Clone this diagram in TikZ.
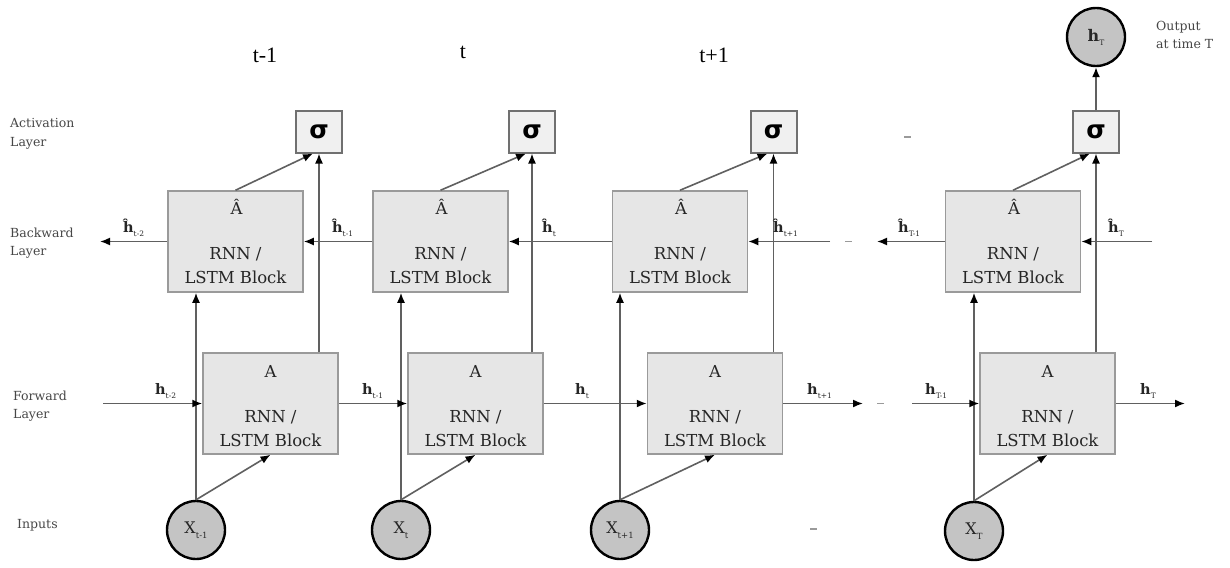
\documentclass[tikz,border=0pt]{standalone}
\usepackage{fontspec}
\usetikzlibrary{arrows.meta}
\setmainfont{DejaVu Serif}
\newfontfamily\sigmafont{DejaVu Sans}
\newfontfamily\timesfont{Liberation Serif}
\definecolor{blockfill}{HTML}{E6E6E6}
\definecolor{blockedge}{HTML}{9A9A9A}
\definecolor{wirecol}{HTML}{606060}
\definecolor{nodefill}{HTML}{C4C4C4}
\definecolor{sigfill}{HTML}{F0F0F0}
\definecolor{sigedge}{HTML}{707070}
\definecolor{ink}{HTML}{262626}
\definecolor{dashcol}{HTML}{9A9A9A}

% hidden-state labels with small lowered subscripts
\newcommand{\hlab}[1]{\textbf{h}\raisebox{-4pt}{\fontsize{7.5}{7.5}\selectfont #1}}
\newcommand{\hhat}[1]{\textbf{\^h}\raisebox{-4pt}{\fontsize{7.5}{7.5}\selectfont #1}}
\newcommand{\xlab}[1]{X\raisebox{-5pt}{\fontsize{8.5}{8.5}\selectfont #1}}

\tikzset{
  block/.style={draw=blockedge, fill=blockfill, line width=1.5pt,
    minimum width=135pt, minimum height=101pt, inner sep=0pt},
  sig/.style={draw=sigedge, fill=sigfill, line width=2pt,
    minimum width=46pt, minimum height=41pt, inner sep=0pt,
    font=\sigmafont\bfseries\fontsize{25}{25}\selectfont},
  unit/.style={circle, draw=black, fill=nodefill, line width=2.4pt,
    minimum size=58pt, inner sep=0pt, text=ink,
    font=\fontsize{16}{16}\selectfont},
  wire/.style={draw=wirecol, line width=1.6pt},
  arr/.style={wire, -{Latex[length=10pt,width=8pt,color=black]}},
  blocktext/.style={align=center, inner sep=0pt, text=ink,
    font=\fontsize{16.5}{23.5}\selectfont},
  blockhead/.style={anchor=base, inner sep=0pt, text=ink,
    font=\fontsize{16.5}{16.5}\selectfont},
  lab/.style={anchor=base west, inner sep=0pt, text=ink,
    font=\fontsize{14.5}{14.5}\selectfont},
  side/.style={anchor=base west, inner sep=0pt, text=ink!85,
    font=\fontsize{12.5}{12.5}\selectfont},
  timelab/.style={inner sep=0pt, text=black,
    font=\timesfont\fontsize{22}{22}\selectfont},
  gap/.style={draw=dashcol, line width=1.6pt},
}

\begin{document}
\begin{tikzpicture}[x=1pt, y=-1pt]
\useasboundingbox (0,0) rectangle (1230,567);
\fill[white] (0,0) rectangle (1230,567);

% row captions
\node[side] (capA1) at (10,128) {Activation};
\node[side] (capA2) at (10,146) {Layer};
\node[side] (capB1) at (10,237) {Backward};
\node[side] (capB2) at (10,255) {Layer};
\node[side] (capF1) at (13,400) {Forward};
\node[side] (capF2) at (13,418) {Layer};
\node[side] (capI) at (17,528) {Inputs};

% time steps
\node[timelab] (tm1) at (265,55) {t-1};
\node[timelab] (tm2) at (463,52) {t};
\node[timelab] (tm3) at (714,55) {t+1};

% blocks: backward (bw), forward (fw), activation (sg)
\foreach \i/\bx/\fx/\sx in {1/235.5/270.5/319, 2/440.5/475.5/532,
                            3/680/715/773.5, 4/1013/1047.5/1096}{
  \node[block] (bw\i) at (\bx,241.5) {};
  \node[blockhead] (bwA\i) at (\bx+1,214) {\^A};
  \node[blocktext] (bwT\i) at (\bx,265.5) {RNN /\\LSTM Block};
  \node[block] (fw\i) at (\fx,403.5) {};
  \node[blockhead] (fwA\i) at (\fx,377) {A};
  \node[blocktext] (fwT\i) at (\fx,428.5) {RNN /\\LSTM Block};
  \node[sig] (sg\i) at (\sx,132) {σ};
}
% inputs and output
\node[unit] (x1) at (196,530) {\xlab{t-1}};
\node[unit] (x2) at (401,530) {\xlab{t}};
\node[unit] (x3) at (620,530) {\xlab{t+1}};
\node[unit] (x4) at (974,531) {\xlab{T}};
\node[unit] (hT) at (1096,37) {\hlab{T}};

% per-column connectors
\foreach \i in {1,2,3,4}{
  \draw[arr] (x\i.north) -- (x\i.north |- bw\i.south);
  \draw[arr] (x\i.north) -- (fw\i.south);
  \draw[arr] (sg\i.south |- fw\i.north) -- (sg\i.south);
  \draw[arr] (bw\i.north) -- ([xshift=-6pt]sg\i.south);
}
\draw[arr] (sg4.north) -- (hT.south);

% free ends of the recurrent chains
\coordinate (bl0) at (100,241.5);
\coordinate (br3) at (830,241.5);
\coordinate (bl4) at (877,241.5);
\coordinate (br4) at (1152,241.5);
\coordinate (fl1) at (103,403.5);
\coordinate (fr3) at (863,403.5);
\coordinate (fl4) at (912,403.5);
\coordinate (fr4) at (1185,403.5);

% backward chain
\draw[arr] (bw1.west) -- (bl0);
\draw[arr] (bw2.west) -- (bw1.east);
\draw[arr] (bw3.west) -- (bw2.east);
\draw[arr] (br3) -- (bw3.east);
\draw[arr] (bw4.west) -- (bl4);
\draw[arr] (br4) -- (bw4.east);

% forward chain
\draw[arr] (fl1) -- (fw1.west);
\draw[arr] (fw1.east) -- (fw2.west);
\draw[arr] (fw2.east) -- (fw3.west);
\draw[arr] (fw3.east) -- (fr3);
\draw[arr] (fl4) -- (fw4.west);
\draw[arr] (fw4.east) -- (fr4);

% state labels
\node[lab] (lb1) at (123,232) {\hhat{t-2}};
\node[lab] (lb2) at (332,232) {\hhat{t-1}};
\node[lab] (lb3) at (542,232) {\hhat{t}};
\node[lab] (lb4) at (773,232) {\hhat{t+1}};
\node[lab] (lb5) at (898,232) {\hhat{T-1}};
\node[lab] (lb6) at (1108,232) {\hhat{T}};
\node[lab] (lf1) at (155,394) {\hlab{t-2}};
\node[lab] (lf2) at (362,394) {\hlab{t-1}};
\node[lab] (lf3) at (575,394) {\hlab{t}};
\node[lab] (lf4) at (807,394) {\hlab{t+1}};
\node[lab] (lf5) at (925,394) {\hlab{T-1}};
\node[lab] (lf6) at (1140,394) {\hlab{T}};

% elided steps
\draw[gap] (845,241.5) -- (852,241.5);
\draw[gap] (877,403.5) -- (884,403.5);
\draw[gap] (810,529) -- (817,529);
\draw[gap] (904,137) -- (911,137);

% output caption
\node[side] (out1) at (1156,31) {Output};
\node[side] (out2) at (1156,49) {at time T};
\end{tikzpicture}
\end{document}
